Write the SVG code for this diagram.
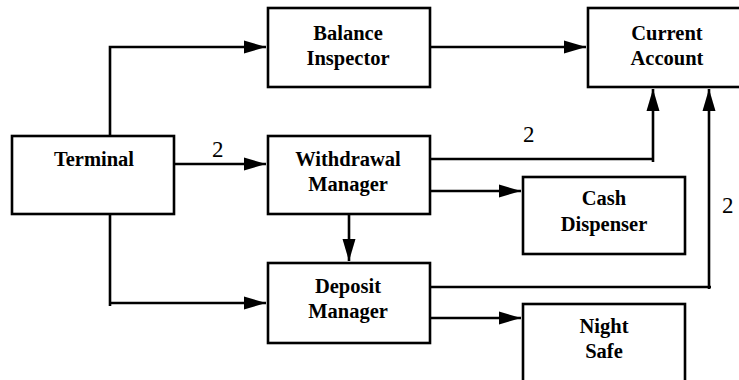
<svg xmlns="http://www.w3.org/2000/svg" width="739" height="380" viewBox="0 0 739 380">
  <style>
    .box { fill: #ffffff; stroke: #000000; stroke-width: 2.6; }
    .name { font-family: 'Liberation Serif', 'Times New Roman', serif; font-weight: bold; font-size: 20.5px; text-anchor: middle; fill: #000000; }
    .mult { font-family: 'Liberation Serif', 'Times New Roman', serif; font-size: 23px; fill: #000000; }
    .wire { fill: none; stroke: #000000; stroke-width: 2.6; }
  </style>
  <defs>
    <marker id="arrow" markerUnits="userSpaceOnUse" markerWidth="22" markerHeight="14" refX="22" refY="7" orient="auto">
      <path d="M0,0.5 L22,7 L0,13.5 z" fill="#000000"/>
    </marker>
  </defs>
  <rect width="739" height="380" fill="#ffffff"/>

  <g id="connectors">
    <!-- Terminal to Balance Inspector -->
    <polyline class="wire" points="110,136 110,47 266,47" marker-end="url(#arrow)"/>
    <!-- Terminal to Withdrawal Manager -->
    <polyline class="wire" points="174,164 266,164" marker-end="url(#arrow)"/>
    <!-- Terminal to Deposit Manager -->
    <polyline class="wire" points="110,214 110,306"/>
    <polyline class="wire" points="110,303 266,303" marker-end="url(#arrow)"/>
    <!-- Balance Inspector to Current Account -->
    <polyline class="wire" points="430,47 586,47" marker-end="url(#arrow)"/>
    <!-- Withdrawal Manager to Current Account -->
    <polyline class="wire" points="430,159 653,159"/>
    <polyline class="wire" points="653,162 653,89" marker-end="url(#arrow)"/>
    <!-- Withdrawal Manager to Cash Dispenser -->
    <polyline class="wire" points="430,191 521,191" marker-end="url(#arrow)"/>
    <!-- Withdrawal Manager to Deposit Manager -->
    <polyline class="wire" points="349,214 349,261" marker-end="url(#arrow)"/>
    <!-- Deposit Manager to Current Account -->
    <polyline class="wire" points="430,287 711,287"/>
    <polyline class="wire" points="709,289 709,89" marker-end="url(#arrow)"/>
    <!-- Deposit Manager to Night Safe -->
    <polyline class="wire" points="430,318 521,318" marker-end="url(#arrow)"/>
    <!-- multiplicities -->
    <text class="mult" x="212" y="157">2</text>
    <text class="mult" x="523" y="142">2</text>
    <text class="mult" x="722" y="213">2</text>
  </g>

  <g id="terminal">
    <rect class="box" x="12" y="136" width="162" height="78"/>
    <text class="name" x="94" y="166">Terminal</text>
  </g>
  <g id="balance-inspector">
    <rect class="box" x="268" y="8" width="162" height="79"/>
    <text class="name" x="348" y="40">Balance</text>
    <text class="name" x="348" y="65">Inspector</text>
  </g>
  <g id="current-account">
    <rect class="box" x="588" y="8" width="158" height="79"/>
    <text class="name" x="667" y="40">Current</text>
    <text class="name" x="667" y="65">Account</text>
  </g>
  <g id="withdrawal-manager">
    <rect class="box" x="268" y="136" width="162" height="78"/>
    <text class="name" x="348" y="166">Withdrawal</text>
    <text class="name" x="348" y="191">Manager</text>
  </g>
  <g id="cash-dispenser">
    <rect class="box" x="523" y="177" width="162" height="77"/>
    <text class="name" x="604" y="205">Cash</text>
    <text class="name" x="604" y="231">Dispenser</text>
  </g>
  <g id="deposit-manager">
    <rect class="box" x="268" y="263" width="162" height="80"/>
    <text class="name" x="348" y="293">Deposit</text>
    <text class="name" x="348" y="318">Manager</text>
  </g>
  <g id="night-safe">
    <rect class="box" x="523" y="304" width="162" height="90"/>
    <text class="name" x="604" y="333">Night</text>
    <text class="name" x="604" y="358">Safe</text>
  </g>
</svg>
